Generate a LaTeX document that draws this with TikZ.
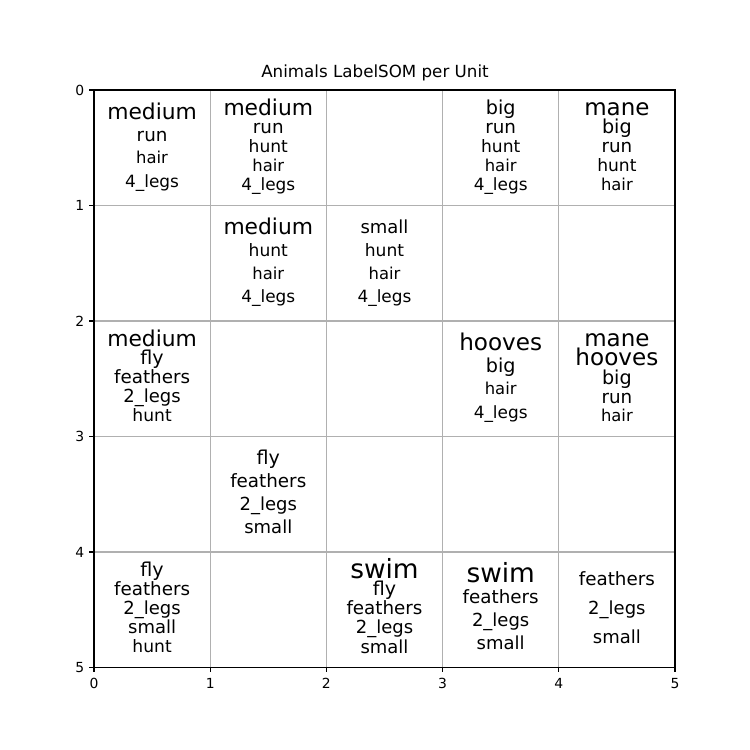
\documentclass[tikz,border=0pt]{standalone}
\usepackage{fontspec}
\setmainfont{DejaVu Sans}
\definecolor{gridgray}{HTML}{B0B0B0}
\tikzset{
  word/.style={inner sep=0pt, anchor=base, text=black},
  gridline/.style={draw=gridgray, line width=1.11pt},
  spine/.style={draw=black, line width=1.11pt, line cap=rect},
  tickmark/.style={draw=black, line width=1.11pt},
  ticklabel/.style={inner sep=0pt, font=\fontsize{13.9}{13.9}\selectfont},
  titletext/.style={inner sep=0pt, anchor=base, font=\fontsize{16.7}{16.7}\selectfont}
}
\newcommand\somcell[4]{%
  \foreach \s/\t [count=\i] in {#4}{
    \node[word, font=\fontsize{\s}{\s}\selectfont] (u#1#2w\i)
      at ({94+(#1+0.5)*116.2},{90+#2*115.5+\i*115.5/(#3+1)+0.276*\s}) {\t};
  }}
\begin{document}
\begin{tikzpicture}[x=1pt,y=-1pt]
\useasboundingbox (0,0) rectangle (750,750);
% grid
\foreach \k in {1,2,3,4}{
  \draw[gridline] ({94+\k*116.2},90) -- ({94+\k*116.2},667.5);
  \draw[gridline] (94,{90+\k*115.5}) -- (675,{90+\k*115.5});
}
% spines
\draw[spine] (94,90) rectangle (675,667.5);
% ticks and tick labels
\foreach \k in {0,1,2,3,4,5}{
  \draw[tickmark] ({94+\k*116.2},667.5) -- ({94+\k*116.2},672.4);
  \node[ticklabel, anchor=base] (xt\k) at ({94+\k*116.2},688) {\k};
  \draw[tickmark] (94,{90+\k*115.5}) -- (89.1,{90+\k*115.5});
  \node[ticklabel, anchor=base east] (yt\k) at (84.3,{90+\k*115.5+5.3}) {\k};
}
% title
\node[titletext] (title) at (375,77.7) {Animals LabelSOM per Unit};
% cells
\somcell{0}{0}{4}{21.8/medium, 18.3/run, 16.4/hair, 16.9/4\_legs}
\somcell{1}{0}{5}{21.8/medium, 18.3/run, 17.1/hunt, 16.4/hair, 16.9/4\_legs}
\somcell{3}{0}{5}{19.2/big, 18.3/run, 17.1/hunt, 16.4/hair, 16.9/4\_legs}
\somcell{4}{0}{5}{23.0/mane, 19.2/big, 18.3/run, 17.1/hunt, 16.4/hair}
\somcell{1}{1}{4}{21.8/medium, 17.1/hunt, 16.4/hair, 16.9/4\_legs}
\somcell{2}{1}{4}{18.0/small, 17.1/hunt, 16.4/hair, 16.9/4\_legs}
\somcell{0}{2}{5}{21.8/medium, 19.1/fly, 18.3/feathers, 18.0/2\_legs, 17.1/hunt}
\somcell{3}{2}{4}{23.1/hooves, 19.2/big, 16.4/hair, 16.9/4\_legs}
\somcell{4}{2}{5}{23.0/mane, 23.1/hooves, 19.2/big, 18.3/run, 16.4/hair}
\somcell{1}{3}{4}{19.1/fly, 18.3/feathers, 18.0/2\_legs, 18.0/small}
\somcell{0}{4}{5}{19.1/fly, 18.3/feathers, 18.0/2\_legs, 18.0/small, 17.1/hunt}
\somcell{2}{4}{5}{26.4/swim, 19.1/fly, 18.3/feathers, 18.0/2\_legs, 18.0/small}
\somcell{3}{4}{4}{26.4/swim, 18.3/feathers, 18.0/2\_legs, 18.0/small}
\somcell{4}{4}{3}{18.3/feathers, 18.0/2\_legs, 18.0/small}
\end{tikzpicture}
\end{document}
